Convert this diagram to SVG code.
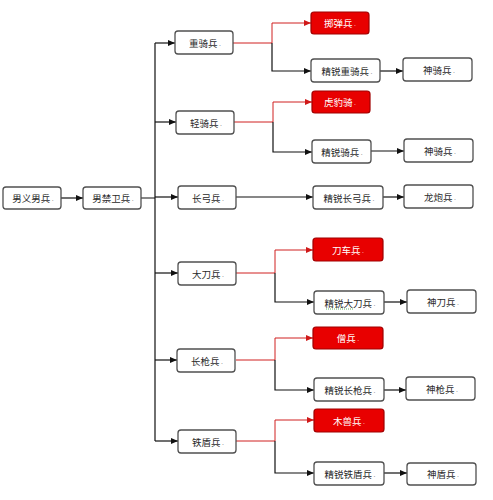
<svg xmlns="http://www.w3.org/2000/svg" width="493" height="500" viewBox="0 0 493 500">
<defs>
<marker id="ab" viewBox="0 0 7 6" refX="7" refY="3" markerWidth="7" markerHeight="6" markerUnits="userSpaceOnUse" orient="auto"><path d="M0,0 L7,3 L0,6 z" fill="#111"/></marker>
<marker id="ar" viewBox="0 0 7 6" refX="7" refY="3" markerWidth="7" markerHeight="6" markerUnits="userSpaceOnUse" orient="auto"><path d="M0,0 L7,3 L0,6 z" fill="#d01818"/></marker>
<style>
.n rect{fill:#fff;stroke:#505050;stroke-width:1.3}
.r rect{fill:#e80000;stroke:#a00000;stroke-width:1.2}
text{font-family:"Noto Sans CJK SC","Noto Sans",sans-serif;font-size:9.5px;fill:#2a2a2a;text-anchor:middle;dominant-baseline:central}
.r text{fill:#fff}
.d{font-size:7px;fill:#999}
.r .d{fill:#f4a0a0}
.k{fill:none;stroke:#111;stroke-width:1.2}
.kr{fill:none;stroke:#d02020;stroke-width:1}
.sq{fill:none;stroke:#3a9a3a;stroke-width:0.8;stroke-dasharray:1 1}
</style>
</defs>
<rect width="493" height="500" fill="#fff"/>
<g id="connectors">
<path class="k" d="M61,198 H83" marker-end="url(#ab)"/>
<path class="k" d="M141,198 H155 M155,43 V441"/>
<path class="k" d="M155,43 H175" marker-end="url(#ab)"/>
<path class="k" d="M155,122 H176" marker-end="url(#ab)"/>
<path class="k" d="M155,197 H178" marker-end="url(#ab)"/>
<path class="k" d="M155,273 H178" marker-end="url(#ab)"/>
<path class="k" d="M155,360 H177" marker-end="url(#ab)"/>
<path class="k" d="M155,441 H178" marker-end="url(#ab)"/>
<path class="kr" d="M233,43 H272 V23 H311" marker-end="url(#ar)"/>
<path class="k" d="M272,43 V71 H311" marker-end="url(#ab)"/>
<path class="kr" d="M234,122 H273 V102 H312" marker-end="url(#ar)"/>
<path class="k" d="M273,122 V152 H312" marker-end="url(#ab)"/>
<path class="k" d="M236,197 H313" marker-end="url(#ab)"/>
<path class="kr" d="M236,273 H275 V250 H313" marker-end="url(#ar)"/>
<path class="k" d="M275,273 V302 H314" marker-end="url(#ab)"/>
<path class="kr" d="M236,360 H275 V338 H313" marker-end="url(#ar)"/>
<path class="k" d="M275,360 V390 H314" marker-end="url(#ab)"/>
<path class="kr" d="M236,441 H275 V420 H314" marker-end="url(#ar)"/>
<path class="k" d="M275,441 V473 H314" marker-end="url(#ab)"/>
<path class="k" d="M380,71 H403" marker-end="url(#ab)"/>
<path class="k" d="M371,151 H404" marker-end="url(#ab)"/>
<path class="k" d="M383,197 H404" marker-end="url(#ab)"/>
<path class="k" d="M384,302 H407" marker-end="url(#ab)"/>
<path class="k" d="M384,390 H406" marker-end="url(#ab)"/>
<path class="k" d="M384,473 H407" marker-end="url(#ab)"/>
</g>
<g id="n1" class="n"><rect x="3" y="187" width="58" height="22" rx="3"/><text x="33" y="198">男义男兵<tspan class="d" dx="1.5">.</tspan></text></g>
<g id="n2" class="n"><rect x="83" y="187" width="58" height="22" rx="3"/><text x="113" y="198">男禁卫兵<tspan class="d" dx="1.5">.</tspan></text></g>
<g id="n3" class="n"><rect x="175" y="31" width="58" height="23" rx="3"/><text x="205" y="43">重骑兵<tspan class="d" dx="1.5">.</tspan></text></g>
<g id="n4" class="n"><rect x="176" y="111" width="58" height="23" rx="3"/><text x="206" y="123">轻骑兵<tspan class="d" dx="1.5">.</tspan></text></g>
<g id="n5" class="n"><rect x="178" y="186" width="58" height="23" rx="3"/><text x="208" y="198">长弓兵<tspan class="d" dx="1.5">.</tspan></text></g>
<g id="n6" class="n"><rect x="178" y="262" width="58" height="23" rx="3"/><text x="208" y="274">大刀兵<tspan class="d" dx="1.5">.</tspan></text></g>
<g id="n7" class="n"><rect x="177" y="349" width="58" height="23" rx="3"/><text x="207" y="361">长枪兵<tspan class="d" dx="1.5">.</tspan></text></g>
<g id="n8" class="n"><rect x="178" y="430" width="58" height="23" rx="3"/><text x="208" y="442">铁盾兵<tspan class="d" dx="1.5">.</tspan></text></g>
<g id="n9" class="r"><rect x="311" y="12" width="58" height="22" rx="3"/><text x="340" y="23">掷弹兵<tspan class="d" dx="1.5">.</tspan></text></g>
<g id="n10" class="n"><rect x="311" y="59" width="69" height="23" rx="3"/><text x="347" y="71">精锐重骑兵<tspan class="d" dx="1.5">.</tspan></text></g>
<g id="n11" class="n"><rect x="403" y="58" width="69" height="23" rx="3"/><text x="439" y="70">神骑兵<tspan class="d" dx="1.5">.</tspan></text></g>
<g id="n12" class="r"><rect x="312" y="91" width="58" height="22" rx="3"/><text x="340" y="102">虎豹骑<tspan class="d" dx="1.5">.</tspan></text></g>
<g id="n13" class="n"><rect x="312" y="140" width="59" height="23" rx="3"/><text x="342" y="152">精锐骑兵<tspan class="d" dx="1.5">.</tspan></text></g>
<g id="n14" class="n"><rect x="404" y="139" width="69" height="23" rx="3"/><text x="440" y="151">神骑兵<tspan class="d" dx="1.5">.</tspan></text></g>
<g id="n15" class="n"><rect x="313" y="186" width="70" height="23" rx="3"/><text x="349" y="198">精锐长弓兵<tspan class="d" dx="1.5">.</tspan></text></g>
<g id="n16" class="n"><rect x="404" y="185" width="69" height="23" rx="3"/><text x="440" y="197">龙炮兵<tspan class="d" dx="1.5">.</tspan></text></g>
<g id="n17" class="r"><rect x="313" y="238" width="70" height="23" rx="3"/><text x="348" y="250">刀车兵<tspan class="d" dx="1.5">.</tspan></text></g>
<g id="n18" class="n"><rect x="314" y="291" width="70" height="23" rx="3"/><text x="350" y="303">精锐大刀兵<tspan class="d" dx="1.5">.</tspan></text><path class="sq" d="M326,309 H353"/></g>
<g id="n19" class="n"><rect x="407" y="290" width="69" height="23" rx="3"/><text x="443" y="302">神刀兵<tspan class="d" dx="1.5">.</tspan></text></g>
<g id="n20" class="r"><rect x="313" y="327" width="70" height="22" rx="3"/><text x="348" y="338">僧兵<tspan class="d" dx="1.5">.</tspan></text></g>
<g id="n21" class="n"><rect x="314" y="378" width="70" height="23" rx="3"/><text x="350" y="390">精锐长枪兵<tspan class="d" dx="1.5">.</tspan></text></g>
<g id="n22" class="n"><rect x="406" y="377" width="69" height="23" rx="3"/><text x="442" y="389">神枪兵<tspan class="d" dx="1.5">.</tspan></text></g>
<g id="n23" class="r"><rect x="314" y="409" width="70" height="23" rx="3"/><text x="349" y="421">木兽兵<tspan class="d" dx="1.5">.</tspan></text></g>
<g id="n24" class="n"><rect x="314" y="462" width="70" height="23" rx="3"/><text x="350" y="474">精锐铁盾兵<tspan class="d" dx="1.5">.</tspan></text></g>
<g id="n25" class="n"><rect x="407" y="463" width="69" height="22" rx="3"/><text x="443" y="474">神盾兵<tspan class="d" dx="1.5">.</tspan></text></g>
</svg>
